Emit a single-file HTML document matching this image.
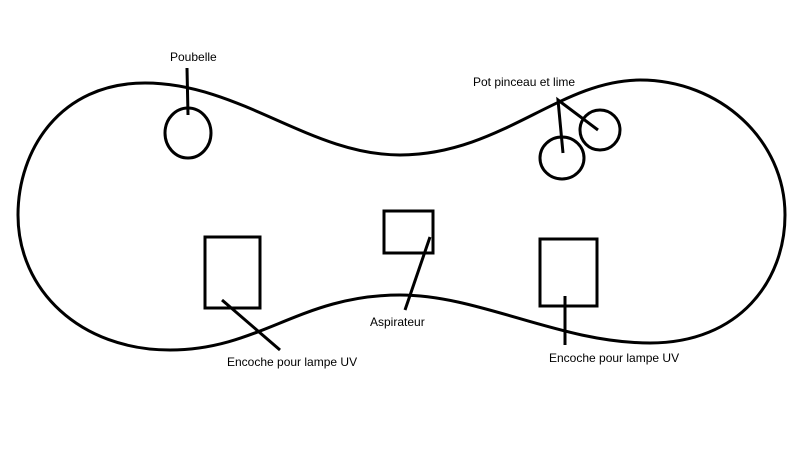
<!DOCTYPE html>
<html><head><style>
body{margin:0;background:#fff;width:800px;height:450px;overflow:hidden}
svg{display:block}
text{font-family:"Liberation Sans",sans-serif;font-size:12px;fill:#000}
</style></head><body>
<svg width="800" height="450" viewBox="0 0 800 450">
<g fill="none" stroke="#000" stroke-width="3">
<path d="M400 155 C310 155,240 83,145 83 C60 83,18 150,18 215 C18 290,80 350,170 350 C260 350,300 295,400 295 C480 295,560 343,650 343 C740 343,785 280,785 215 C785 140,720 80,640 80 C560 80,500 155,400 155 Z"/>
<ellipse cx="188" cy="133" rx="23" ry="25"/>
<line x1="187" y1="68" x2="188" y2="115"/>
<circle cx="600" cy="130" r="20"/>
<ellipse cx="562" cy="158" rx="22" ry="21"/>
<polyline points="563,153 558,100 598,130"/>
<rect x="205" y="237" width="55" height="71"/>
<rect x="384" y="211" width="49" height="42"/>
<rect x="540" y="239" width="57" height="67"/>
<line x1="222" y1="300" x2="280" y2="350"/>
<line x1="430" y1="237" x2="405" y2="310"/>
<line x1="565" y1="296" x2="565" y2="345"/>
</g>
<text x="170" y="61">Poubelle</text>
<text x="473" y="86">Pot pinceau et lime</text>
<text x="370" y="326">Aspirateur</text>
<text x="227" y="366">Encoche pour lampe UV</text>
<text x="549" y="362">Encoche pour lampe UV</text>
</svg>
</body></html>
